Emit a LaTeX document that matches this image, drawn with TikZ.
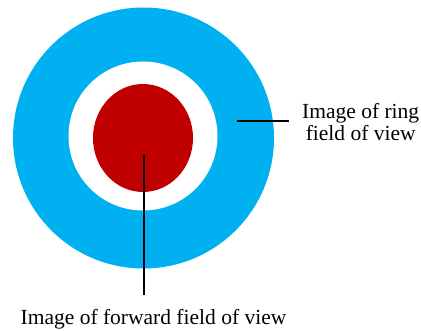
\documentclass[tikz,border=0pt]{standalone}
\usepackage{fontspec}
\setmainfont{Liberation Serif}
\usetikzlibrary{shapes.geometric}
\definecolor{ringblue}{HTML}{00B0F0}
\definecolor{fwdred}{HTML}{C00000}
\begin{document}
\begin{tikzpicture}[x=1pt,y=-1pt,
  disc/.style={circle,inner sep=0pt,draw=none},
  lbl/.style={inner sep=0pt,font=\fontsize{21.5}{22}\selectfont,align=center},
  leader/.style={draw=black,line width=1.3pt}]
\useasboundingbox (0,0) rectangle (421,331);
\fill[white] (0,0) rectangle (421,331);
\node[disc,fill=ringblue,minimum size=261pt] (ring) at (143.5,138) {};
\node[disc,fill=white,minimum size=149pt] (gap) at (143,136) {};
\node[ellipse,inner sep=0pt,fill=fwdred,minimum width=100pt,minimum height=108pt] (fwd) at (143,138) {};
\node[lbl,anchor=base] (fwdlbl) at (153.5,325) {Image of forward field of view};
\node[lbl,anchor=west] (ringlbl) at (302,122) {Image of ring\\field of view};
\coordinate (fwdstart) at (144,155);
\coordinate (fwdend) at (144,295);
\coordinate (ringstart) at (237,121);
\coordinate (ringend) at (289,121);
\path[leader] (fwdstart) -- (fwdend);
\path[leader] (ringstart) -- (ringend);
\end{tikzpicture}
\end{document}
